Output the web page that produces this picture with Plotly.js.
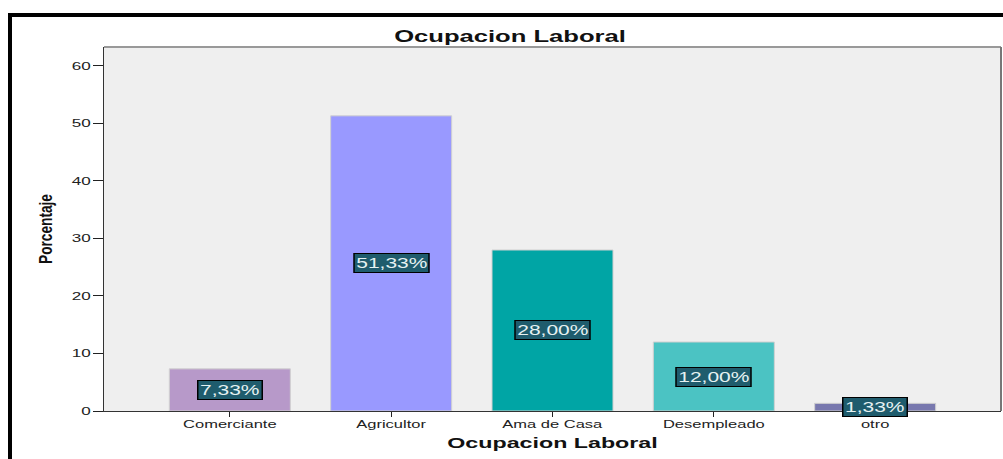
<!DOCTYPE html>
<html>
<head>
<meta charset="utf-8">
<script src="https://cdn.plot.ly/plotly-3.0.1.min.js"></script>
<style>
  html, body { margin: 0; padding: 0; background: #fff; overflow: hidden; }
  #chart { width: 1003px; height: 459px; position: relative; }
  #frame { position: absolute; left: 8px; top: 13px; width: 1100px; height: 600px;
           border-left: 4px solid #000; border-top: 4px solid #000; pointer-events: none; }
</style>
</head>
<body>
<div id="chart"></div>
<div id="frame"></div>
<script>
const categories = ["Comerciante", "Agricultor", "Ama de Casa", "Desempleado", "otro"];
const percentages = [7.33, 51.33, 28.00, 12.00, 1.33];
const barColors = ["#b799c9", "#9999ff", "#00a5a5", "#4bc3c3", "#7878ae"];
const yTicks = [0, 10, 20, 30, 40, 50, 60];

const fmt = v => v.toFixed(2).replace(".", ",") + "%";
const FONT = "Liberation Sans, Arial, sans-serif";

const trace = {
  type: "bar",
  x: categories,
  y: percentages,
  width: 0.75,
  marker: { color: barColors, line: { color: "#d0d0d0", width: 1 } },
  hoverinfo: "skip"
};

const annotations = categories.map((c, i) => ({
  x: c, y: percentages[i] / 2, xref: "x", yref: "y",
  text: fmt(percentages[i]), showarrow: false,
  bgcolor: "#1f5c6d", bordercolor: "#000", borderwidth: 1, borderpad: 1,
  font: { family: FONT, size: 14, color: "#e6f2f2" }
}));

const layout = {
  width: 1003, height: 459,
  margin: { l: 104, r: 2, t: 47, b: 48 },
  paper_bgcolor: "#ffffff",
  plot_bgcolor: "#efefef",
  showlegend: false,
  bargap: 0,
  title: {
    text: "<b>Ocupacion Laboral</b>",
    font: { family: FONT, size: 16, color: "#111" },
    x: 0.5085, xref: "container", xanchor: "center",
    y: 1 - 36 / 459, yref: "container", yanchor: "middle"
  },
  xaxis: {
    type: "category",
    range: [-0.78, 4.78],
    showgrid: false, zeroline: false,
    ticks: "outside", ticklen: 5, tickcolor: "#222", tickwidth: 1,
    ticklabelstandoff: -2,
    tickfont: { family: FONT, size: 11, color: "#222" },
    showline: true, linecolor: "#333", linewidth: 1, mirror: false,
    title: {
      text: "<b>Ocupacion Laboral</b>",
      font: { family: FONT, size: 15, color: "#111" },
      standoff: 8
    }
  },
  yaxis: {
    range: [0, 63.3],
    tickvals: yTicks, ticktext: yTicks.map(String),
    showgrid: false, zeroline: false,
    ticks: "outside", ticklen: 10, tickcolor: "#222", tickwidth: 1,
    tickfont: { family: FONT, size: 11, color: "#222" },
    showline: true, linecolor: "#333", linewidth: 1,
    title: {
      text: "<b>Porcentaje</b>",
      font: { family: FONT, size: 19, color: "#111" },
      standoff: 20
    }
  },
  shapes: [
    { type: "line", xref: "paper", yref: "paper", x0: 0, x1: 1, y0: 1, y1: 1,
      line: { color: "#999", width: 2 } },
    { type: "line", xref: "paper", yref: "paper", x0: 1, x1: 1, y0: 0, y1: 1,
      line: { color: "#777", width: 2 } }
  ],
  annotations: annotations
};

// horizontal stretch of rendered text (the reference text is drawn wide)
function stretchAt(el, cx, cy, sx) {
  const tr = el.getAttribute("transform") || "";
  el.setAttribute("transform", tr + ` translate(${cx},${cy}) scale(${sx},1) translate(${-cx},${-cy})`);
}
function stretchText(sel, sx, anchor) {
  document.querySelectorAll(sel).forEach(el => {
    const b = el.getBBox();
    const cx = anchor === "end" ? b.x + b.width : b.x + b.width / 2;
    stretchAt(el, cx, b.y + b.height / 2, sx);
  });
}

Plotly.newPlot("chart", [trace], layout, { displayModeBar: false, staticPlot: true }).then(gd => {
  stretchText("#chart .xtick text", 1.5, "middle");
  stretchText("#chart .ytick text", 1.55, "end");
  stretchText("#chart .gtitle", 1.6, "middle");
  stretchText("#chart .xtitle", 1.55, "middle");
  stretchText("#chart g.annotation", 1.5, "middle");
  // y title: compress along its own (rotated) direction -> narrow glyphs
  document.querySelectorAll("#chart .ytitle").forEach(el => {
    const x = parseFloat(el.getAttribute("x")), y = parseFloat(el.getAttribute("y"));
    stretchAt(el, x, y, 0.72);
  });
});
</script>
</body>
</html>
